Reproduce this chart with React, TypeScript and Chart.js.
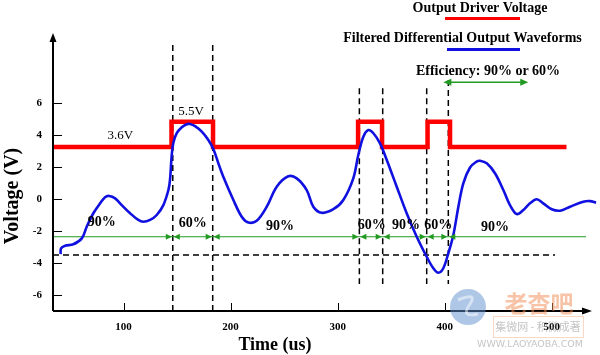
import React, { useEffect, useRef } from 'react';
import { Chart, registerables } from 'chart.js';

Chart.register(...registerables);

// ---------- axes ----------
const X_MIN = 34.1;
const X_MAX = 545.1;
const X_TICKS = [0, 100, 200, 300, 400, 500];
const X_TICK_LABELS = ['0', '100', '200', '300', '400', '500'];
const Y_MIN = -7;
const Y_MAX = 10.375;
const Y_TICKS = [-6, -4, -2, 0, 2, 4, 6];
const Y_TICK_LABELS = ['-6', '-4', '-2', '0', '2', '4', '6'];
const X_TITLE = 'Time (us)';
const Y_TITLE = 'Voltage (V)';

// ---------- Output Driver Voltage (step waveform) ----------
const DRIVER_LABEL = 'Output Driver Voltage';
const DRIVER_TIME = [34.1, 144.8, 144.8, 183.6, 183.6, 319.1, 319.1, 341.5, 341.5, 384.0, 384.0, 405.0, 405.0, 513.8];
const DRIVER_VOLT = [3.25, 3.25, 4.83, 4.83, 3.25, 3.25, 4.83, 4.83, 3.25, 3.25, 4.83, 4.83, 3.25, 3.25];

// ---------- Filtered Differential Output Waveform ----------
const WAVE_LABEL = 'Filtered Differential Output Waveforms';
const WAVE_TIME = [
  41.2, 41.6, 45.4, 53.1, 61.0, 65.6, 71.8, 78.1, 82.7, 86.7, 92.1, 98.3, 106.1, 113.8, 118.5, 124.8,
  131.0, 137.2, 141.9, 143.4, 145.0, 146.5, 149.7, 154.4, 159.0, 162.1, 166.8, 173.1, 179.2, 183.9,
  188.6, 193.2, 202.6, 210.4, 216.6, 224.4, 233.8, 243.1, 253.9, 261.8, 271.1, 277.3, 285.1, 296.0,
  305.3, 314.7, 319.3, 324.0, 328.7, 333.4, 339.6, 345.9, 355.2, 364.5, 373.9, 383.2, 389.4, 394.1,
  398.7, 403.4, 408.1, 412.8, 417.4, 423.7, 429.9, 433.0, 439.3, 447.0, 454.8, 461.0, 467.3, 473.5,
  479.7, 486.0, 492.1, 500.0, 507.8, 517.1, 529.5, 535.8, 541.4,
];
const WAVE_VOLT = [
  -3.44, -3.08, -2.92, -2.83, -2.46, -1.73, -0.89, -0.27, 0.11, 0.19, 0.04, -0.38, -0.89, -1.31, -1.42, -1.31,
  -1.0, -0.38, 0.56, 1.19, 2.75, 3.5, 4.11, 4.48, 4.67, 4.69, 4.56, 4.21, 3.69, 3.13,
  2.23, 1.39, -0.06, -1.11, -1.47, -1.36, -0.48, 0.77, 1.42, 1.29, 0.56, -0.48, -0.86, -0.64,
  -0.06, 1.31, 2.75, 3.89, 4.31, 4.11, 3.48, 2.44, 0.77, -0.89, -2.36, -3.61, -4.33, -4.61,
  -4.33, -3.39, -2.25, -0.48, 0.98, 1.97, 2.34, 2.39, 2.23, 1.61, 0.56, -0.38, -0.94, -0.69,
  -0.27, -0.02, -0.27, -0.64, -0.73, -0.48, -0.17, -0.13, -0.23,
];

// ---------- efficiency segments ----------
const BOUNDARY_TIME = [146.0, 183.3, 320.3, 342.1, 383.2, 403.4];
const BOUNDARY_TOP = [9.63, 9.63, 6.92, 6.92, 6.92, 7.44];
const BOUNDARY_BOTTOM = [-7, -7, -5.31, -5.31, -5.31, -5.31];

const EFF_LEVEL = -2.36;
const EFF_START = 34.1;
const EFF_END = 532.0;

const FLOOR_LEVEL = -3.5;
const FLOOR_START = 34.1;
const FLOOR_END = 503.1;

const SEGMENT_LABELS = ['90%', '60%', '90%', '60%', '90%', '60%', '90%'];
const SEGMENT_LABEL_TIME = [79.6, 164.6, 246.2, 331.9, 363.9, 394.1, 447.0];
const SEGMENT_LABEL_VOLT = [-1.48, -1.52, -1.69, -1.63, -1.63, -1.63, -1.77];

const LEVEL_LABELS = ['3.6V', '5.5V'];
const LEVEL_LABEL_TIME = [96.9, 163.0];
const LEVEL_LABEL_VOLT = [3.96, 5.46];

const EFF_KEY_LABEL = 'Efficiency: 90% or 60%';
const EFF_KEY_TIME = [398.7, 478.1];
const EFF_KEY_VOLT = 7.29;

const WATERMARK_TEXT = ['老杳吧', '集微网 - 积微成著', 'WWW.LAOYAOBA.COM'];

const RED = '#ff0000';
const BLUE = 'rgb(16,16,224)';
const GREEN = '#229a22';
const SERIF = '"Liberation Serif", "Times New Roman", serif';

const pts = (xs: number[], ys: number[]) => xs.map((x, i) => ({ x, y: ys[i] }));

function arrowHead(ctx: CanvasRenderingContext2D, x: number, y: number, dir: number, len: number, half: number) {
  // dir: +1 pointing right, -1 pointing left
  ctx.beginPath();
  ctx.moveTo(x, y);
  ctx.lineTo(x - dir * len, y - half);
  ctx.lineTo(x - dir * len, y + half);
  ctx.closePath();
  ctx.fill();
}

export default function App() {
  const ref = useRef<HTMLCanvasElement>(null);

  useEffect(() => {
    const canvas = ref.current!;

    const decor = {
      id: 'decor',
      afterDatasetsDraw(chart: any) {
        const ctx: CanvasRenderingContext2D = chart.ctx;
        const xs = chart.scales.x;
        const ys = chart.scales.y;
        const { left, top, bottom, right } = chart.chartArea;
        ctx.save();

        // green arrowheads at segment boundaries
        ctx.fillStyle = GREEN;
        const gy = ys.getPixelForValue(EFF_LEVEL);
        BOUNDARY_TIME.forEach((t) => {
          const bx = xs.getPixelForValue(t);
          arrowHead(ctx, bx - 1, gy, 1, 6, 3);
          arrowHead(ctx, bx + 1, gy, -1, 6, 3);
        });

        // efficiency key double arrow
        const ax1 = xs.getPixelForValue(EFF_KEY_TIME[0]);
        const ax2 = xs.getPixelForValue(EFF_KEY_TIME[1]);
        const ay = ys.getPixelForValue(EFF_KEY_VOLT);
        ctx.strokeStyle = GREEN;
        ctx.lineWidth = 1.5;
        ctx.beginPath();
        ctx.moveTo(ax1 + 3, ay);
        ctx.lineTo(ax2 - 3, ay);
        ctx.stroke();
        arrowHead(ctx, ax1, ay, -1, 8, 3.5);
        arrowHead(ctx, ax2, ay, 1, 8, 3.5);

        // annotation texts
        ctx.fillStyle = '#000';
        ctx.textAlign = 'center';
        ctx.textBaseline = 'middle';
        ctx.font = `bold 14px ${SERIF}`;
        SEGMENT_LABELS.forEach((s, i) => {
          ctx.fillText(s, xs.getPixelForValue(SEGMENT_LABEL_TIME[i]), ys.getPixelForValue(SEGMENT_LABEL_VOLT[i]));
        });
        ctx.font = `13px ${SERIF}`;
        LEVEL_LABELS.forEach((s, i) => {
          ctx.fillText(s, xs.getPixelForValue(LEVEL_LABEL_TIME[i]), ys.getPixelForValue(LEVEL_LABEL_VOLT[i]));
        });

        // axes with arrows
        ctx.strokeStyle = '#000';
        ctx.fillStyle = '#000';
        ctx.lineWidth = 2;
        ctx.beginPath();
        ctx.moveTo(left, bottom);
        ctx.lineTo(left, top + 6);
        ctx.moveTo(left, bottom);
        ctx.lineTo(right - 14, bottom);
        ctx.stroke();
        ctx.beginPath();
        ctx.moveTo(left, top);
        ctx.lineTo(left - 3.5, top + 9);
        ctx.lineTo(left + 3.5, top + 9);
        ctx.closePath();
        ctx.fill();
        arrowHead(ctx, right - 8, bottom, 1, 10, 3.5);

        // inward tick marks
        ctx.lineWidth = 1;
        ys.ticks.forEach((tk: any) => {
          const y = Math.round(ys.getPixelForValue(tk.value)) + 0.5;
          ctx.beginPath();
          ctx.moveTo(left, y);
          ctx.lineTo(left + 9, y);
          ctx.stroke();
        });
        xs.ticks.forEach((tk: any) => {
          const x = Math.round(xs.getPixelForValue(tk.value)) + 0.5;
          ctx.beginPath();
          ctx.moveTo(x, bottom);
          ctx.lineTo(x, bottom - 8);
          ctx.stroke();
        });

        // axis titles
        ctx.font = `bold 18px ${SERIF}`;
        ctx.fillText(X_TITLE, 275, 345);
        ctx.save();
        ctx.translate(13, 196);
        ctx.rotate(-Math.PI / 2);
        ctx.font = `bold 20px ${SERIF}`;
        ctx.fillText(Y_TITLE, 0, 0);
        ctx.restore();

        // legend
        const ds = chart.data.datasets;
        ctx.font = `bold 14px ${SERIF}`;
        ctx.fillText(ds[1].label, 480, 8);
        ctx.fillText(ds[0].label, 462.5, 38);
        ctx.fillText(EFF_KEY_LABEL, 488, 71);
        ctx.lineWidth = 3;
        ctx.strokeStyle = RED;
        ctx.beginPath();
        ctx.moveTo(445, 18.5);
        ctx.lineTo(520, 18.5);
        ctx.stroke();
        ctx.strokeStyle = BLUE;
        ctx.beginPath();
        ctx.moveTo(447, 49.5);
        ctx.lineTo(520, 49.5);
        ctx.stroke();

        ctx.restore();
      },
      afterDraw(chart: any) {
        const ctx: CanvasRenderingContext2D = chart.ctx;
        ctx.save();
        ctx.globalAlpha = 0.5;
        ctx.fillStyle = '#5d8fd0';
        ctx.beginPath();
        ctx.arc(468, 307, 18, 0, Math.PI * 2);
        ctx.fill();
        ctx.strokeStyle = '#ffffff';
        ctx.lineWidth = 3;
        ctx.beginPath();
        ctx.moveTo(458, 300);
        ctx.quadraticCurveTo(478, 292, 470, 304);
        ctx.quadraticCurveTo(460, 318, 478, 314);
        ctx.stroke();
        ctx.strokeStyle = '#f3b48a';
        ctx.lineWidth = 1;
        ctx.strokeRect(493.5, 316.5, 90, 21);
        ctx.textAlign = 'center';
        ctx.textBaseline = 'middle';
        ctx.fillStyle = '#f08a50';
        ctx.font = `bold 23px "Noto Sans CJK SC"`;
        ctx.fillText(WATERMARK_TEXT[0], 539, 303);
        ctx.fillStyle = '#8a8a8a';
        ctx.font = `11px "Noto Sans CJK SC"`;
        ctx.fillText(WATERMARK_TEXT[1], 538, 327);
        ctx.font = `9.5px "DejaVu Sans"`;
        ctx.fillText(WATERMARK_TEXT[2], 530, 344.5);
        ctx.restore();
      },
    };

    const line = (label: string, data: any[], extra: any) => ({
      label,
      data,
      pointRadius: 0,
      tension: 0,
      borderJoinStyle: 'miter',
      ...extra,
    });

    const chart = new Chart(canvas, {
      type: 'line',
      data: {
        datasets: [
          line(WAVE_LABEL, pts(WAVE_TIME, WAVE_VOLT), { borderColor: BLUE, borderWidth: 2.6, tension: 0.35, borderJoinStyle: 'round', order: 0 }),
          line(DRIVER_LABEL, pts(DRIVER_TIME, DRIVER_VOLT), { borderColor: RED, borderWidth: 4.5, order: 1 }),
          line('Efficiency reference', [{ x: EFF_START, y: EFF_LEVEL }, { x: EFF_END, y: EFF_LEVEL }], { borderColor: GREEN, borderWidth: 1.2, order: 2 }),
          line('Floor', [{ x: FLOOR_START, y: FLOOR_LEVEL }, { x: FLOOR_END, y: FLOOR_LEVEL }], { borderColor: '#000', borderWidth: 1.5, borderDash: [6, 4], order: 3 }),
          ...BOUNDARY_TIME.map((t, i) =>
            line('Boundary', [{ x: t, y: BOUNDARY_TOP[i] }, { x: t, y: BOUNDARY_BOTTOM[i] }], { borderColor: '#000', borderWidth: 1.5, borderDash: [6, 4], order: 4 })
          ),
        ],
      },
      options: {
        responsive: false,
        animation: false,
        devicePixelRatio: 1,
        layout: { padding: { top: 33, left: 0, right: 0, bottom: 0 } },
        plugins: { legend: { display: false }, tooltip: { enabled: false } },
        scales: {
          x: {
            type: 'linear',
            min: X_MIN,
            max: X_MAX,
            border: { display: false },
            grid: { display: false, drawTicks: false },
            afterBuildTicks: (s: any) => {
              s.ticks = X_TICKS.filter((v) => v >= X_MIN && v <= X_MAX).map((v) => ({ value: v }));
            },
            afterFit: (s: any) => { s.height = 44; },
            ticks: {
              padding: 10,
              color: '#000',
              font: { family: SERIF, size: 11, weight: 'bold' },
              maxRotation: 0,
              callback: (v: any) => X_TICK_LABELS[X_TICKS.indexOf(Number(v))],
            },
          },
          y: {
            type: 'linear',
            min: Y_MIN,
            max: Y_MAX,
            border: { display: false },
            grid: { display: false, drawTicks: false },
            afterBuildTicks: (s: any) => {
              s.ticks = Y_TICKS.map((v) => ({ value: v }));
            },
            afterFit: (s: any) => { s.width = 53; },
            ticks: {
              padding: 11,
              color: '#000',
              font: { family: SERIF, size: 11, weight: 'bold' },
              callback: (v: any) => Y_TICK_LABELS[Y_TICKS.indexOf(Number(v))],
            },
          },
        },
      } as any,
      plugins: [decor],
    });

    return () => chart.destroy();
  }, []);

  return (
    <div style={{ position: 'fixed', left: 0, top: 0, width: 600, height: 355, background: '#fff' }}>
      <canvas ref={ref} width={600} height={355} style={{ display: 'block' }} />
    </div>
  );
}
